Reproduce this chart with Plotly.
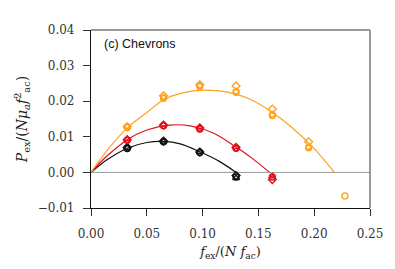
import plotly.graph_objects as go

# ---- data ----
x_pts = [0.0325, 0.065, 0.0975, 0.13, 0.1625, 0.195, 0.2275]

# black series
blk_diamond = [0.0070, 0.0088, 0.0057, -0.0009]
blk_circle = [0.0067, 0.0086, 0.0056, -0.0013]
blk_tri = [0.0069, 0.0087, 0.0058, -0.0016]
blk_fit_x = [0.0, 0.008, 0.015, 0.0325, 0.05, 0.065, 0.08, 0.0975, 0.115, 0.13]
blk_fit_y = [0.0, 0.0021, 0.0037, 0.0068, 0.0084, 0.0087, 0.0080, 0.0058, 0.0031, 0.0]

# red series
red_diamond = [0.0092, 0.0133, 0.0125, 0.0070, -0.0020]
red_circle = [0.0090, 0.0131, 0.0122, 0.0068, -0.0013]
red_tri = [0.0093, 0.0134, 0.0126, 0.0071, -0.0011]
red_fit_x = [0.0, 0.008, 0.015, 0.0325, 0.05, 0.07, 0.09, 0.11, 0.13, 0.145, 0.16]
red_fit_y = [0.0, 0.0027, 0.0048, 0.0092, 0.0119, 0.0133, 0.0130, 0.0110, 0.0071, 0.0038, 0.0]

# orange series
org_diamond = [0.0128, 0.0215, 0.0246, 0.0243, 0.0178, 0.0086, None]
org_circle = [0.0126, 0.0208, 0.0241, 0.0225, 0.0160, 0.0069, -0.0066]
org_penta = [0.0130, 0.0210, 0.0244, 0.0228, 0.0163, 0.0072, None]
org_fit_x = [0.0, 0.008, 0.015, 0.0325, 0.05, 0.065, 0.08, 0.10, 0.12, 0.14, 0.16, 0.18, 0.20, 0.218]
org_fit_y = [0.0, 0.0035, 0.0064, 0.0125, 0.0168, 0.0204, 0.0222, 0.0231, 0.0227, 0.0209, 0.0174, 0.0126, 0.0067, 0.0]

x_ticks = [0.0, 0.05, 0.10, 0.15, 0.20, 0.25]
x_ticklabels = ["0.00", "0.05", "0.10", "0.15", "0.20", "0.25"]
y_ticks = [-0.01, 0.0, 0.01, 0.02, 0.03, 0.04]
y_ticklabels = ["\u22120.01", "0.00", "0.01", "0.02", "0.03", "0.04"]

BLACK = "#111111"
RED = "#e0101a"
ORANGE = "#ffa21a"

fig = go.Figure()

# zero line
fig.add_trace(go.Scatter(x=[0.0, 0.25], y=[0.0, 0.0], mode="lines",
                         line=dict(color="#999999", width=1), hoverinfo="skip"))

def add_series(color, fx, fy, groups):
    fig.add_trace(go.Scatter(x=fx, y=fy, mode="lines", line=dict(color=color, width=1.2, shape="spline")))
    for sym, ys in groups:
        fig.add_trace(go.Scatter(x=x_pts[:len(ys)], y=ys, mode="markers",
                                 marker=dict(symbol=sym, size=6, color=color,
                                             line=dict(color=color, width=1.4))))

add_series(BLACK, blk_fit_x, blk_fit_y,
           [("diamond-open", blk_diamond), ("circle-open", blk_circle), ("triangle-up-open", blk_tri)])
add_series(RED, red_fit_x, red_fit_y,
           [("diamond-open", red_diamond), ("circle-open", red_circle), ("triangle-up-open", red_tri)])
add_series(ORANGE, org_fit_x, org_fit_y,
           [("diamond-open", org_diamond), ("circle-open", org_circle), ("pentagon-open", org_penta)])

serif = "DejaVu Serif"

fig.update_layout(
    width=395, height=269,
    margin=dict(l=91, r=14.5, t=29.5, b=59.7),
    paper_bgcolor="white", plot_bgcolor="white",
    showlegend=False,
    font=dict(family=serif, size=12, color="#333333"),
    xaxis=dict(range=[0, 0.25], tickvals=x_ticks, ticktext=x_ticklabels,
               showgrid=False, zeroline=False, showline=True, linecolor="#111111", linewidth=1.2,
               ticks="outside", ticklen=7, tickcolor="#333333", tickwidth=1.2,
               ticklabelstandoff=7, ticklabeloverflow="allow",
               tickfont=dict(family=serif, size=12, color="#333333"),
               title=dict(text="<i>f</i><sub>ex</sub>/(<i>N f</i><sub>ac</sub>)", standoff=7,
                          font=dict(family=serif, size=13, color="#222222"))),
    yaxis=dict(range=[-0.01, 0.04], tickvals=y_ticks, ticktext=y_ticklabels,
               showgrid=False, zeroline=False, showline=True, linecolor="#111111", linewidth=1.2,
               ticks="outside", ticklen=7, tickcolor="#333333", tickwidth=1.2,
               ticklabelstandoff=6,
               tickfont=dict(family=serif, size=12, color="#333333"),
               title=dict(text="<i>P</i><sub>ex</sub>/(<i>Nμ<sub>a</sub>f</i><sup>2</sup><sub>ac</sub>)",
                          standoff=6, font=dict(family=serif, size=14, color="#222222"))),
    shapes=[
        dict(type="line", xref="paper", yref="paper", x0=0, x1=1, y0=1, y1=1,
             line=dict(color="#777777", width=1.5)),
        dict(type="line", xref="paper", yref="paper", x0=1, x1=1, y0=0, y1=1,
             line=dict(color="#777777", width=1.5)),
    ],
    annotations=[
        dict(text="(c) Chevrons", xref="paper", yref="paper", x=0.04, y=0.92,
             xanchor="left", yanchor="middle", showarrow=False,
             font=dict(family="Liberation Sans", size=12.5, color="#111111")),
    ],
)

fig.write_html("out.html")
